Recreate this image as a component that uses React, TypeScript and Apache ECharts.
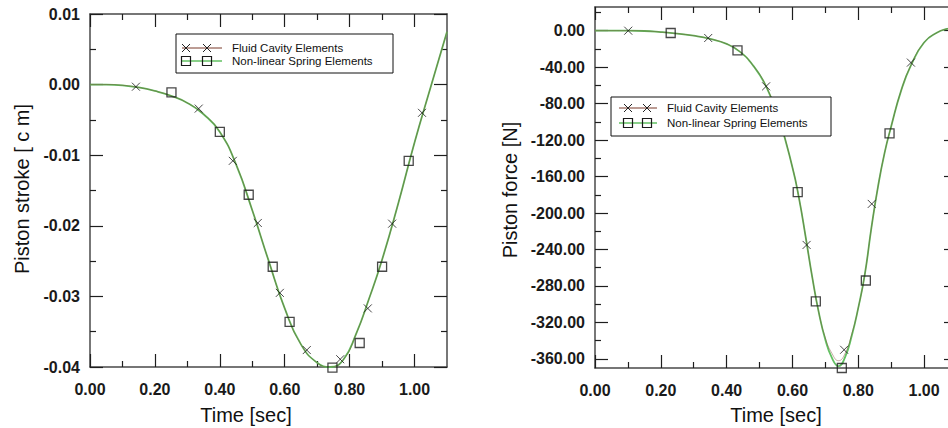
import React, { useEffect, useRef } from "react";
import * as echarts from "echarts";

// ---- Left chart: piston stroke [cm] vs time [sec]
const strokeTime = [0, 0.05, 0.1, 0.15, 0.2, 0.25, 0.3, 0.35, 0.4, 0.45, 0.5, 0.55, 0.6, 0.65, 0.7, 0.74, 0.78, 0.82, 0.86, 0.9, 0.95, 1.0, 1.05, 1.1];
const strokeFluid = [0, 0, -0.0001, -0.0004, -0.0009, -0.0016, -0.0026, -0.0042, -0.0067, -0.0113, -0.0178, -0.0249, -0.0317, -0.0368, -0.0394, -0.04, -0.039, -0.0353, -0.0303, -0.0248, -0.0168, -0.0082, -0.0003, 0.0075];
const strokeSpring = [0, 0, -0.0001, -0.0004, -0.0009, -0.0016, -0.0026, -0.0042, -0.0067, -0.0113, -0.0178, -0.0249, -0.0317, -0.0368, -0.0394, -0.04, -0.039, -0.0353, -0.0303, -0.0248, -0.0168, -0.0082, -0.0003, 0.0075];
const strokeFluidMarks = [[0.1415, -0.0003], [0.335, -0.0034], [0.44, -0.0108], [0.517, -0.0196], [0.585, -0.0295], [0.668, -0.0376], [0.771, -0.0389], [0.856, -0.0317], [0.931, -0.0197], [1.023, -0.004]];
const strokeSpringMarks = [[0.251, -0.0011], [0.4, -0.0067], [0.489, -0.0156], [0.563, -0.0258], [0.615, -0.0336], [0.747, -0.0401], [0.831, -0.0366], [0.9, -0.0258], [0.982, -0.0108]];

// ---- Right chart: piston force [N] vs time [sec]
const forceTime = [0, 0.05, 0.1, 0.15, 0.2, 0.25, 0.3, 0.35, 0.4, 0.44, 0.48, 0.52, 0.56, 0.6, 0.62, 0.64, 0.66, 0.68, 0.7, 0.72, 0.74, 0.76, 0.78, 0.8, 0.82, 0.84, 0.86, 0.88, 0.9, 0.93, 0.96, 1.0, 1.04, 1.07, 1.1];
const forceFluid = [0, 0, 0, -0.3, -1.5, -3.2, -5.5, -9, -14.5, -23, -38, -61, -98, -150, -184, -226, -270, -309, -337, -354, -362, -354, -333, -304, -267, -216, -171, -134, -105, -66, -38, -13, -2, 2, 4];
const forceSpring = [0, 0, 0, -0.3, -1.5, -3.2, -5.5, -9, -14.5, -23, -38, -61, -98, -150, -184, -226, -270, -309, -339, -359, -368, -358, -335, -304, -267, -216, -171, -134, -105, -66, -38, -13, -2, 2, 4];
const forceFluidMarks = [[0.101, 0], [0.344, -8], [0.52, -61], [0.643, -235], [0.757, -350], [0.841, -190], [0.96, -35]];
const forceSpringMarks = [[0.23, -2.5], [0.433, -21.5], [0.616, -177], [0.671, -297], [0.75, -370], [0.823, -274], [0.895, -112.7]];

// ---- Ticks
const timeMajor = [0, 0.2, 0.4, 0.6, 0.8, 1.0];
const timeMinor = [0.1, 0.3, 0.5, 0.7, 0.9];
const strokeMajor = [-0.04, -0.03, -0.02, -0.01, 0, 0.01];
const strokeMinor = [-0.035, -0.025, -0.015, -0.005, 0.005];
const forceMajor = [-360, -320, -280, -240, -200, -160, -120, -80, -40, 0];
const forceMinor = [-340, -300, -260, -220, -180, -140, -100, -60, -20, 20];

const seriesNames = ["Fluid Cavity Elements", "Non-linear Spring Elements"];

const FONT = "'Liberation Sans', Arial, sans-serif";
const AXIS = "#4a4a4a";
const TICK = "#1e1e1e";
const RED = "#7a3a2a";
const GREEN = "#62c062";
const X_SYMBOL = "path://M0 0L10 10M10 0L0 10";

function zip(t: number[], v: number[]) {
  return t.map((x, i) => [x, v[i]]);
}

function makeAxis(grid: number, position: string, min: number, max: number, values: number[], len: number, label: boolean, line: boolean, margin: number) {
  return {
    type: "value",
    gridIndex: grid,
    position,
    min,
    max,
    axisLine: { show: line, onZero: false, lineStyle: { color: AXIS, width: 1.5 } },
    axisTick: { show: true, inside: true, length: len, customValues: values, lineStyle: { color: TICK, width: 1.2 } },
    axisLabel: label
      ? { show: true, customValues: values, formatter: (v: number) => v.toFixed(2), margin, fontFamily: FONT, fontWeight: "bold", fontSize: 16, color: "#1a1a1a" }
      : { show: false },
    splitLine: { show: false },
  };
}

function xAxes(grid: number) {
  return [
    makeAxis(grid, "bottom", 0, 1.1, timeMajor, 13, true, true, 14),
    makeAxis(grid, "bottom", 0, 1.1, timeMinor, 6, false, false, 0),
    makeAxis(grid, "top", 0, 1.1, timeMajor, 13, false, true, 0),
    makeAxis(grid, "top", 0, 1.1, timeMinor, 6, false, false, 0),
  ];
}

function yAxes(grid: number, min: number, max: number, major: number[], minor: number[]) {
  return [
    makeAxis(grid, "left", min, max, major, 13, true, true, 10),
    makeAxis(grid, "left", min, max, minor, 6, false, false, 0),
    makeAxis(grid, "right", min, max, major, 13, false, true, 0),
    makeAxis(grid, "right", min, max, minor, 6, false, false, 0),
  ];
}

function lineSeries(name: string, axis: number, data: number[][], color: string, width: number, opacity: number, z: number) {
  return {
    name,
    type: "line",
    xAxisIndex: axis,
    yAxisIndex: axis,
    data,
    showSymbol: false,
    smooth: 0.5,
    lineStyle: { color, width, opacity },
    z,
  };
}

function markSeries(name: string, axis: number, data: number[][], isX: boolean) {
  return {
    name,
    type: "scatter",
    xAxisIndex: axis,
    yAxisIndex: axis,
    data,
    clip: false,
    symbol: isX ? X_SYMBOL : "rect",
    symbolSize: isX ? 8 : 9,
    symbolKeepAspect: true,
    itemStyle: { color: "transparent", borderColor: "#1a1a1a", borderWidth: isX ? 1 : 1.3 },
    z: 5,
  };
}

function legendGraphics(x: number, y: number, w: number, h: number, row1: number, row2: number, lx1: number, lx2: number, m1: number, m2: number, tx: number) {
  const els: any[] = [
    { type: "rect", shape: { x, y, width: w, height: h }, style: { fill: "#fff", stroke: "#111", lineWidth: 1 }, z: 10 },
    { type: "line", shape: { x1: lx1, y1: row1, x2: lx2, y2: row1 }, style: { stroke: RED, lineWidth: 1 }, z: 11 },
    { type: "line", shape: { x1: lx1, y1: row2, x2: lx2, y2: row2 }, style: { stroke: GREEN, lineWidth: 1.4 }, z: 11 },
  ];
  [m1, m2].forEach((mx) => {
    els.push({ type: "line", shape: { x1: mx - 4, y1: row1 - 4, x2: mx + 4, y2: row1 + 4 }, style: { stroke: "#222", lineWidth: 1 }, z: 12 });
    els.push({ type: "line", shape: { x1: mx - 4, y1: row1 + 4, x2: mx + 4, y2: row1 - 4 }, style: { stroke: "#222", lineWidth: 1 }, z: 12 });
    els.push({ type: "rect", shape: { x: mx - 4.5, y: row2 - 4.5, width: 9, height: 9 }, style: { fill: "none", stroke: "#1a1a1a", lineWidth: 1.2 }, z: 12 });
  });
  els.push({ type: "text", x: tx, y: row1, style: { text: seriesNames[0], font: `11.5px ${FONT}`, fill: "#111", verticalAlign: "middle" }, z: 12 });
  els.push({ type: "text", x: tx, y: row2, style: { text: seriesNames[1], font: `11.5px ${FONT}`, fill: "#111", verticalAlign: "middle" }, z: 12 });
  return els;
}

function title(text: string, x: number, y: number, vertical: boolean) {
  return {
    type: "text",
    x,
    y,
    rotation: vertical ? Math.PI / 2 : 0,
    style: { text, font: `20px ${FONT}`, fill: "#111", align: "center", verticalAlign: "middle" },
    z: 12,
  };
}

export default function App() {
  const ref = useRef<HTMLDivElement>(null);
  useEffect(() => {
    if (!ref.current) return;
    const chart = echarts.init(ref.current, undefined, { renderer: "svg" });
    const option: any = {
      animation: false,
      backgroundColor: "#ffffff",
      grid: [
        { left: 90, top: 14, width: 357, height: 353, outerBoundsMode: "none" },
        { left: 595, top: 7, width: 362, height: 361, outerBoundsMode: "none" },
      ],
      xAxis: [...xAxes(0), ...xAxes(1)],
      yAxis: [...yAxes(0, -0.04, 0.01, strokeMajor, strokeMinor), ...yAxes(1, -370, 26, forceMajor, forceMinor)],
      series: [
        lineSeries(seriesNames[1], 0, zip(strokeTime, strokeSpring), GREEN, 1.8, 1, 2),
        lineSeries(seriesNames[0], 0, zip(strokeTime, strokeFluid), RED, 0.7, 0.6, 3),
        markSeries(seriesNames[0], 0, strokeFluidMarks, true),
        markSeries(seriesNames[1], 0, strokeSpringMarks, false),
        lineSeries(seriesNames[1], 4, zip(forceTime, forceSpring), GREEN, 1.8, 1, 2),
        lineSeries(seriesNames[0], 4, zip(forceTime, forceFluid), RED, 0.7, 0.6, 3),
        markSeries(seriesNames[0], 4, forceFluidMarks, true),
        markSeries(seriesNames[1], 4, forceSpringMarks, false),
      ],
      graphic: [
        ...legendGraphics(176, 34, 217, 39, 48, 61, 182, 222, 186, 207, 232),
        ...legendGraphics(611, 97, 220, 39, 108, 123, 619, 657, 628, 647, 667),
        title("Piston stroke [ c m]", 22, 189, true),
        title("Time [sec]", 246, 415, false),
        title("Piston force [N]", 510, 190, true),
        title("Time [sec]", 776, 415, false),
      ],
    };
    chart.setOption(option);
    return () => chart.dispose();
  }, []);
  return <div ref={ref} style={{ position: "absolute", left: 0, top: 0, width: 948, height: 428, background: "#fff" }} />;
}
